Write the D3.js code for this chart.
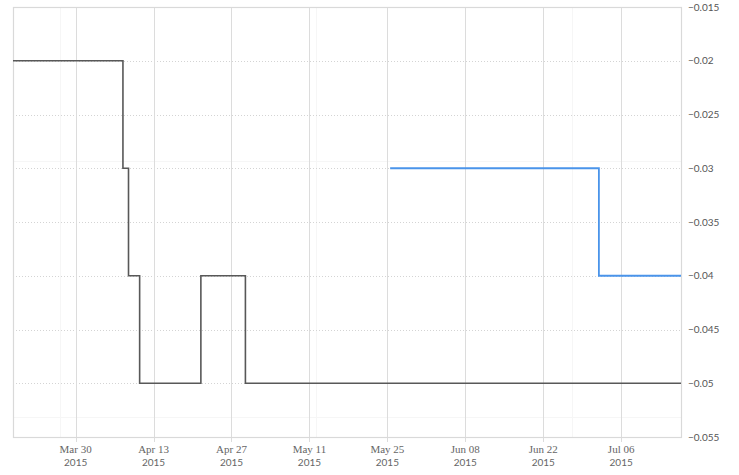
<!DOCTYPE html>
<html>
<head>
<meta charset="utf-8">
<script src="https://cdn.jsdelivr.net/npm/d3@7"></script>
<style>
  body { margin: 0; background: #fff; }
  line { shape-rendering: crispEdges; }
</style>
</head>
<body>
<div class="chart"></div>
<script>
// series data (step-after)
var blackDates = ["2015-03-18T18:00", "2015-04-07T12:00", "2015-04-08T12:00", "2015-04-10T12:00",
                  "2015-04-21T12:00", "2015-04-29T12:00", "2015-07-16T18:00"];
var blackValues = [-0.02, -0.03, -0.04, -0.05, -0.04, -0.05, -0.05];

var blueDates = ["2015-05-25T12:00", "2015-07-02T00:00", "2015-07-16T18:00"];
var blueValues = [-0.03, -0.04, -0.04];

// axis ticks
var xTickDates = ["2015-03-30", "2015-04-13", "2015-04-27", "2015-05-11",
                  "2015-05-25", "2015-06-08", "2015-06-22", "2015-07-06"];
var yTickValues = [-0.015, -0.02, -0.025, -0.03, -0.035, -0.04, -0.045, -0.05, -0.055];
var xDomain = ["2015-03-18T18:00", "2015-07-16T18:00"];
var yDomain = [-0.055, -0.015];

var parseTime = d3.utcParse("%Y-%m-%dT%H:%M");
var parseDay = d3.utcParse("%Y-%m-%d");

var svgWidth = 739;
var svgHeight = 475;
var margin = { top: 7, right: 58, bottom: 38, left: 13 };
var width = svgWidth - margin.left - margin.right;
var height = svgHeight - margin.top - margin.bottom;

var svg = d3.select(".chart")
  .append("svg")
  .attr("width", svgWidth)
  .attr("height", svgHeight);

// faint background tile lines
var bg = svg.append("g").attr("stroke", "#f6f6f6").attr("stroke-width", 1);
[60, 316, 572].forEach(function(x) {
  bg.append("line").attr("x1", x + 0.5).attr("x2", x + 0.5)
    .attr("y1", margin.top).attr("y2", margin.top + height);
});
[161, 417].forEach(function(y) {
  bg.append("line").attr("y1", y + 0.5).attr("y2", y + 0.5)
    .attr("x1", margin.left).attr("x2", margin.left + width);
});

var chartGroup = svg.append("g")
  .attr("transform", `translate(${margin.left}, ${margin.top})`);

var xScale = d3.scaleUtc()
  .domain(xDomain.map(parseTime))
  .range([0, width]);

var yScale = d3.scaleLinear()
  .domain(yDomain)
  .range([height, 0]);

// horizontal dotted gridlines
chartGroup.append("g")
  .selectAll("line")
  .data(yTickValues.slice(1, -1))
  .enter()
  .append("line")
  .attr("x1", 0)
  .attr("x2", width)
  .attr("y1", d => Math.round(yScale(d)) + 0.5)
  .attr("y2", d => Math.round(yScale(d)) + 0.5)
  .attr("stroke", "#d4d4d4")
  .attr("stroke-dasharray", "1,2");

// vertical gridlines at the date ticks (running a little below the plot)
chartGroup.append("g")
  .selectAll("line")
  .data(xTickDates.map(parseDay))
  .enter()
  .append("line")
  .attr("x1", d => Math.round(xScale(d)) + 0.5)
  .attr("x2", d => Math.round(xScale(d)) + 0.5)
  .attr("y1", 0)
  .attr("y2", height + 5)
  .attr("stroke", "#dcdcdc")
  .attr("stroke-width", 1);

var xLabels = chartGroup.append("g")
  .selectAll("g")
  .data(xTickDates.map(parseDay))
  .enter()
  .append("g")
  .attr("transform", d => `translate(${xScale(d)}, ${height})`);
xLabels.append("text")
  .attr("y", 16)
  .attr("text-anchor", "middle")
  .attr("font-family", "'Liberation Serif', 'DejaVu Serif', serif")
  .attr("font-size", "11px")
  .attr("fill", "#666")
  .text(d => d3.utcFormat("%b %d")(d));
xLabels.append("text")
  .attr("y", 29)
  .attr("text-anchor", "middle")
  .attr("font-family", "Lato, sans-serif")
  .attr("font-size", "10px")
  .attr("fill", "#666")
  .text(d => d3.utcFormat("%Y")(d));

// y axis on the right, labels only
var yAxis = d3.axisRight(yScale)
  .tickValues(yTickValues)
  .tickSize(0)
  .tickPadding(7)
  .tickFormat(d => d3.format("")(+d.toFixed(3)));

var yg = chartGroup.append("g")
  .attr("transform", `translate(${width}, 0)`)
  .call(yAxis);
yg.select(".domain").remove();
yg.selectAll(".tick line").remove();
yg.selectAll(".tick text")
  .attr("font-family", "Lato, sans-serif")
  .attr("font-size", "10px")
  .attr("fill", "#555");

// plot border
chartGroup.append("rect")
  .attr("x", 0.5)
  .attr("y", 0.5)
  .attr("width", width)
  .attr("height", height)
  .attr("fill", "none")
  .attr("stroke", "#d9d9d9")
  .attr("stroke-width", 1.2);

// step lines
var line = d3.line()
  .curve(d3.curveStepAfter)
  .x(d => xScale(d.date))
  .y(d => yScale(d.value));

var blackData = blackDates.map((d, i) => ({ date: parseTime(d), value: blackValues[i] }));
var blueData = blueDates.map((d, i) => ({ date: parseTime(d), value: blueValues[i] }));

chartGroup.append("path")
  .datum(blackData)
  .attr("d", line)
  .attr("fill", "none")
  .attr("stroke", "#585858")
  .attr("stroke-width", 1.6);

chartGroup.append("path")
  .datum(blueData)
  .attr("d", line)
  .attr("fill", "none")
  .attr("stroke", "#4a94ea")
  .attr("stroke-width", 1.8);
</script>
</body>
</html>
